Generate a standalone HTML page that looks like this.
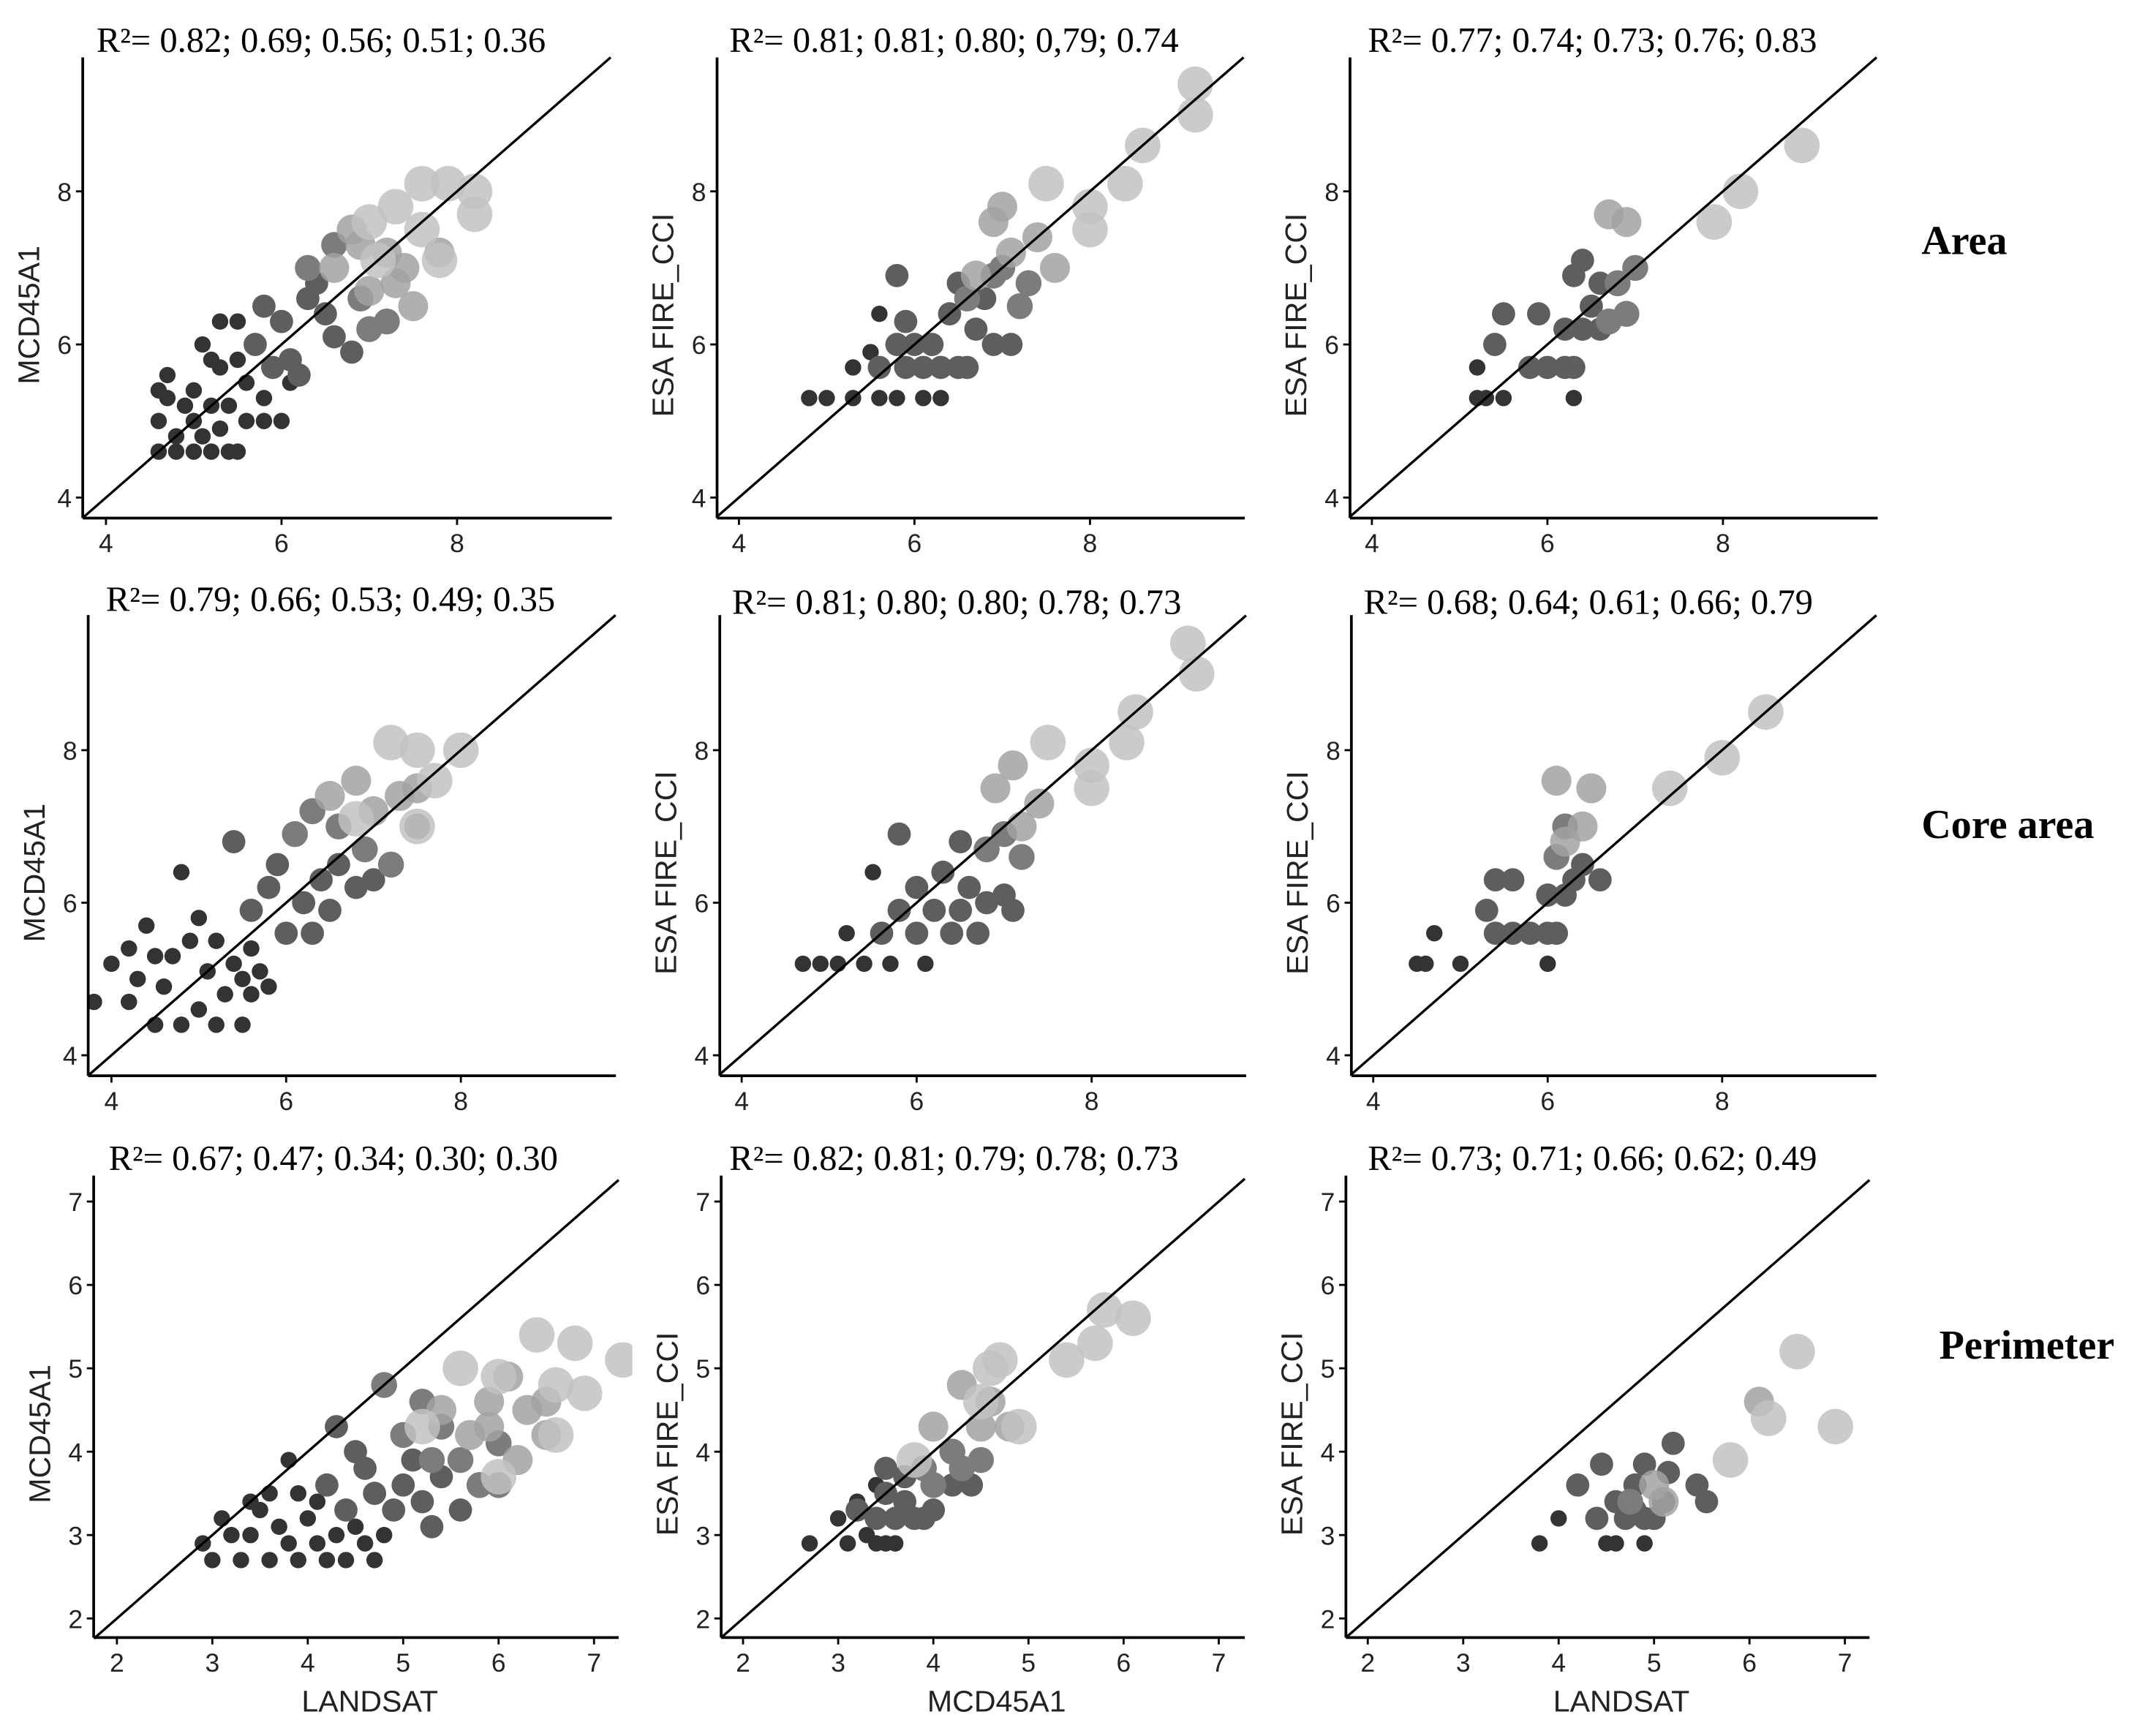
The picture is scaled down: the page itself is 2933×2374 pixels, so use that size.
<!DOCTYPE html>
<html><head><meta charset="utf-8">
<style>
html,body{margin:0;padding:0;background:#fff;}
svg{display:block;}
.tick{font-family:"Liberation Sans",sans-serif;font-size:19px;fill:#222;}
.ylab,.xlab{font-family:"Liberation Sans",sans-serif;font-size:22px;fill:#222;}
.r2{font-family:"Liberation Serif",serif;font-size:26px;fill:#000;}
.row{font-family:"Liberation Serif",serif;font-size:30px;font-weight:bold;fill:#000;}
</style></head>
<body>
<svg id="fig" width="2933" height="2374" viewBox="0 0 1568 1270" xmlns="http://www.w3.org/2000/svg">
<text class="row" x="1405" y="186">Area</text>
<text class="row" x="1405" y="613">Core area</text>
<text class="row" x="1418" y="994">Perimeter</text>
</svg>
<script>
// ---- data (x, y, group) ----
const p11 = [[4.6,4.6,0],[4.8,4.6,0],[5.0,4.6,0],[5.2,4.6,0],[5.4,4.6,0],[5.5,4.6,0],[4.6,5.0,0],[4.6,5.4,0],[4.7,5.6,0],[4.8,4.8,0],[5.0,5.0,0],[5.0,5.4,0],[5.2,5.8,0],[5.3,6.3,0],[5.5,6.3,0],[5.1,6.0,0],[5.3,5.7,0],[5.6,5.5,0],[5.8,5.3,0],[6.0,5.0,0],[5.8,5.0,0],[5.4,5.2,0],[5.2,5.2,0],[4.9,5.2,0],[5.6,5.0,0],[6.1,5.5,0],[5.5,5.8,0],[4.7,5.3,0],[5.1,4.8,0],[5.3,4.9,0],
[5.7,6.0,1],[5.8,6.5,1],[6.0,6.3,1],[6.1,5.8,1],[6.3,6.6,1],[6.4,6.8,1],[6.6,6.1,1],[6.8,5.9,1],[6.2,5.6,1],[5.9,5.7,1],[6.5,6.4,1],[7.0,6.2,2],[7.2,6.3,2],[6.9,6.6,2],[6.3,7.0,2],[6.6,7.3,2],
[6.6,7.0,3],[6.9,7.3,3],[7.3,6.8,3],[7.0,6.7,3],[7.5,6.5,3],[6.8,7.5,3],[7.2,7.2,3],[7.4,7.0,3],[7.8,7.2,3],
[7.0,7.6,4],[7.3,7.8,4],[7.6,8.1,4],[7.9,8.1,4],[8.2,8.0,4],[8.2,7.7,4],[7.8,7.1,4],[7.6,7.5,4],[7.1,7.1,4]];
const p12 = [[4.8,5.3,0],[5.0,5.3,0],[5.3,5.3,0],[5.6,5.3,0],[5.8,5.3,0],[6.1,5.3,0],[6.3,5.3,0],[5.3,5.7,0],[5.5,5.9,0],[5.8,6.9,1],[5.6,6.4,0],
[5.6,5.7,1],[5.8,6.0,1],[5.9,5.7,1],[6.0,6.0,1],[6.1,5.7,1],[6.3,5.7,1],[6.5,5.7,1],[6.6,5.7,1],[6.2,6.0,1],[6.4,6.4,1],[6.5,6.8,1],[6.7,6.2,1],[6.9,6.0,1],[7.1,6.0,1],[6.8,6.6,1],[5.9,6.3,1],
[6.9,6.9,2],[7.2,6.5,2],[7.0,7.0,2],[6.6,6.6,2],[7.3,6.8,2],
[6.9,7.6,3],[7.0,7.8,3],[7.4,7.4,3],[7.6,7.0,3],[7.1,7.2,3],[6.7,6.9,3],
[7.5,8.1,4],[8.0,7.8,4],[8.0,7.5,4],[8.4,8.1,4],[8.6,8.6,4],[9.2,9.4,4],[9.2,9.0,4]];
const p13 = [[5.2,5.7,0],[5.2,5.3,0],[5.3,5.3,0],[5.5,5.3,0],[6.3,5.3,0],
[5.4,6.0,1],[5.5,6.4,1],[5.8,5.7,1],[5.9,6.4,1],[6.0,5.7,1],[6.2,5.7,1],[6.3,5.7,1],[6.2,6.2,1],[6.4,6.2,1],[6.5,6.5,1],[6.6,6.2,1],[6.3,6.9,1],[6.4,7.1,1],[6.6,6.8,1],
[6.7,6.3,2],[6.9,6.4,2],[6.8,6.8,2],[7.0,7.0,2],[6.7,7.7,3],[6.9,7.6,3],[7.9,7.6,4],[8.2,8.0,4],[8.9,8.6,4]];
const p21 = [[3.8,4.7,0],[4.0,5.2,0],[4.2,4.7,0],[4.3,5.0,0],[4.4,5.7,0],[4.5,4.4,0],[4.6,4.9,0],[4.7,5.3,0],[4.8,4.4,0],[4.9,5.5,0],[5.0,4.6,0],[5.1,5.1,0],[5.2,5.5,0],[5.3,4.8,0],[5.4,5.2,0],[5.5,5.0,0],[5.6,4.8,0],[5.7,5.1,0],[5.8,4.9,0],[5.5,4.4,0],[4.8,6.4,0],[5.2,4.4,0],[4.5,5.3,0],[5.0,5.8,0],[5.6,5.4,0],[4.2,5.4,0],
[5.4,6.8,1],[5.6,5.9,1],[5.8,6.2,1],[6.0,5.6,1],[6.2,6.0,1],[6.4,6.3,1],[6.6,6.5,1],[6.8,6.2,1],[7.0,6.3,1],[6.3,5.6,1],[5.9,6.5,1],[6.5,5.9,1],
[6.1,6.9,2],[6.3,7.2,2],[6.6,7.0,2],[6.9,6.7,2],[7.2,6.5,2],[7.5,7.0,2],
[6.5,7.4,3],[6.8,7.6,3],[7.0,7.2,3],[7.3,7.4,3],[7.5,7.5,3],
[7.2,8.1,4],[7.5,8.0,4],[8.0,8.0,4],[7.7,7.6,4],[7.5,7.0,4],[6.8,7.1,4]];
const p22 = [[4.7,5.2,0],[4.9,5.2,0],[5.1,5.2,0],[5.4,5.2,0],[5.7,5.2,0],[6.1,5.2,0],[5.5,6.4,0],[5.8,6.9,1],[5.2,5.6,0],
[5.6,5.6,1],[5.8,5.9,1],[6.0,5.6,1],[6.2,5.9,1],[6.4,5.6,1],[6.5,5.9,1],[6.6,6.2,1],[6.3,6.4,1],[6.5,6.8,1],[6.8,6.0,1],[7.0,6.1,1],[7.1,5.9,1],[6.0,6.2,1],[6.7,5.6,1],
[6.8,6.7,2],[7.0,6.9,2],[7.2,6.6,2],[6.9,7.5,3],[7.1,7.8,3],[7.4,7.3,3],[7.2,7.0,3],
[7.5,8.1,4],[8.0,7.8,4],[8.0,7.5,4],[8.4,8.1,4],[8.5,8.5,4],[9.1,9.4,4],[9.2,9.0,4]];
const p23 = [[4.5,5.2,0],[4.6,5.2,0],[4.7,5.6,0],[5.0,5.2,0],[6.0,5.2,0],
[5.3,5.9,1],[5.4,5.6,1],[5.4,6.3,1],[5.6,6.3,1],[5.6,5.6,1],[5.8,5.6,1],[6.0,5.6,1],[6.1,5.6,1],[6.0,6.1,1],[6.2,6.1,1],[6.3,6.3,1],[6.4,6.5,1],[6.6,6.3,1],[6.2,7.0,2],[6.1,6.6,2],
[6.1,7.6,3],[6.5,7.5,3],[6.4,7.0,3],[6.2,6.8,3],[7.4,7.5,4],[8.0,7.9,4],[8.5,8.5,4]];
const p31 = [[2.9,2.9,0],[3.0,2.7,0],[3.1,3.2,0],[3.3,2.7,0],[3.4,3.0,0],[3.5,3.3,0],[3.6,2.7,0],[3.7,3.1,0],[3.8,2.9,0],[3.8,3.9,0],[3.9,2.7,0],[4.0,3.2,0],[4.1,2.9,0],[4.2,2.7,0],[4.3,3.0,0],[4.4,2.7,0],[4.5,3.1,0],[4.6,2.9,0],[4.7,2.7,0],[4.8,3.0,0],[3.4,3.4,0],[3.6,3.5,0],[4.1,3.4,0],[3.2,3.0,0],[3.9,3.5,0],
[4.2,3.6,1],[4.3,4.3,1],[4.4,3.3,1],[4.6,3.8,1],[4.7,3.5,1],[4.9,3.3,1],[5.0,3.6,1],[5.2,3.4,1],[5.3,3.1,1],[5.4,3.7,1],[5.6,3.3,1],[4.5,4.0,1],[5.1,3.9,1],
[4.8,4.8,2],[5.0,4.2,2],[5.2,4.6,2],[5.4,4.3,2],[5.6,3.9,2],[5.8,3.6,2],[6.0,3.6,2],[5.3,3.9,2],[6.0,4.1,2],
[5.4,4.5,3],[5.7,4.2,3],[5.9,4.6,3],[6.1,4.9,3],[6.3,4.5,3],[6.5,4.2,3],[6.2,3.9,3],[5.9,4.3,3],[6.5,4.6,3],
[5.6,5.0,4],[6.0,4.9,4],[6.4,5.4,4],[6.8,5.3,4],[7.3,5.1,4],[6.6,4.8,4],[6.9,4.7,4],[6.6,4.2,4],[6.0,3.7,4],[5.2,4.3,4]];
const p32 = [[2.7,2.9,0],[3.0,3.2,0],[3.1,2.9,0],[3.3,3.0,0],[3.4,2.9,0],[3.5,2.9,0],[3.6,2.9,0],[3.2,3.4,0],[3.4,3.6,0],
[3.2,3.3,1],[3.4,3.2,1],[3.5,3.5,1],[3.6,3.2,1],[3.7,3.4,1],[3.8,3.2,1],[3.9,3.2,1],[3.5,3.8,1],[3.7,3.7,1],[4.0,3.3,1],[4.2,3.6,1],[4.4,3.6,1],
[3.9,3.8,2],[4.0,3.6,2],[4.2,4.0,2],[4.3,3.8,2],[4.5,3.9,2],
[4.0,4.3,3],[4.3,4.8,3],[4.5,4.3,3],[4.6,4.6,3],[4.8,4.3,3],
[4.6,5.0,4],[4.7,5.1,4],[4.9,4.3,4],[5.4,5.1,4],[5.7,5.3,4],[5.8,5.7,4],[6.1,5.6,4],[4.5,4.6,4],[3.8,3.9,4]];
const p33 = [[3.8,2.9,0],[4.0,3.2,0],[4.5,2.9,0],[4.6,2.9,0],[4.9,2.9,0],
[4.2,3.6,1],[4.4,3.2,1],[4.45,3.85,1],[4.6,3.4,1],[4.7,3.2,1],[4.8,3.3,1],[4.8,3.6,1],[4.9,3.85,1],[4.9,3.2,1],[5.0,3.2,1],[5.1,3.4,1],[5.15,3.75,1],[5.2,4.1,1],[5.45,3.6,1],[5.55,3.4,1],
[4.75,3.4,2],[5.0,3.6,3],[5.1,3.4,3],[5.8,3.9,4],[6.1,4.6,3],[6.2,4.4,4],[6.5,5.2,4],[6.9,4.3,4]];
const r2Labels = ["R²= 0.82; 0.69; 0.56; 0.51; 0.36","R²= 0.81; 0.81; 0.80; 0,79; 0.74","R²= 0.77; 0.74; 0.73; 0.76; 0.83",
"R²= 0.79; 0.66; 0.53; 0.49; 0.35","R²= 0.81; 0.80; 0.80; 0.78; 0.73","R²= 0.68; 0.64; 0.61; 0.66; 0.79",
"R²= 0.67; 0.47; 0.34; 0.30; 0.30","R²= 0.82; 0.81; 0.79; 0.78; 0.73","R²= 0.73; 0.71; 0.66; 0.62; 0.49"];
const yLabels = ["MCD45A1","ESA FIRE_CCI","ESA FIRE_CCI"];
const xLabels = ["LANDSAT","MCD45A1","LANDSAT"];
const ticksAC = [4,6,8];
const ticksP = [2,3,4,5,6,7];
// ---- layout ----
const groupStyle = [{r:6,f:"#333"},{r:8.5,f:"#5e5e5e"},{r:9.5,f:"#7c7c7c"},{r:11,f:"#a2a2a2"},{r:13,f:"#c2c2c2"}];
const panels = [
 {d:p11,ax:60,bot:379,top:42,right:447,x0:77,xs:64.2,y0:364,ys:56,min:3.75,ticks:ticksAC,r2x:70,r2y:38},
 {d:p12,ax:524,bot:379,top:42,right:910,x0:540,xs:64.2,y0:364,ys:56,min:3.75,ticks:ticksAC,r2x:533,r2y:38},
 {d:p13,ax:987,bot:379,top:42,right:1373,x0:1003,xs:64.2,y0:364,ys:56,min:3.75,ticks:ticksAC,r2x:1000,r2y:38},
 {d:p21,ax:64,bot:787,top:450,right:450,x0:81,xs:63.9,y0:772,ys:55.8,min:3.73,ticks:ticksAC,r2x:77,r2y:447},
 {d:p22,ax:526,bot:787,top:450,right:911,x0:542,xs:64,y0:772,ys:55.8,min:3.75,ticks:ticksAC,r2x:535,r2y:449},
 {d:p23,ax:988,bot:787,top:450,right:1372,x0:1004,xs:63.8,y0:772,ys:55.8,min:3.75,ticks:ticksAC,r2x:997,r2y:449},
 {d:p31,ax:68,bot:1198,top:860,right:452,x0:85,xs:69.8,y0:1184,ys:61,min:1.76,ticks:ticksP,r2x:79,r2y:856},
 {d:p32,ax:527,bot:1198,top:860,right:910,x0:543,xs:69.6,y0:1184,ys:61,min:1.77,ticks:ticksP,r2x:533,r2y:856},
 {d:p33,ax:984,bot:1198,top:860,right:1367,x0:1000,xs:69.8,y0:1184,ys:61,min:1.77,ticks:ticksP,r2x:1000,r2y:856}];
const NS="http://www.w3.org/2000/svg";
const svg=document.getElementById('fig');
function mk(tag,attrs,parent){const e=document.createElementNS(NS,tag);for(const k in attrs)e.setAttribute(k,attrs[k]);(parent||svg).appendChild(e);return e;}
panels.forEach((p,i)=>{
  const t0=p.ticks[0];
  const sx=v=>p.x0+(v-t0)*p.xs;
  const sy=v=>p.y0-(v-t0)*p.ys;
  const g=mk('g',{});
  
  
  const clipId='c'+i;
  const cp=mk('clipPath',{id:clipId},g);
  mk('rect',{x:p.ax,y:p.top-20,width:p.right-p.ax+10,height:p.bot-p.top+20},cp);
  const pts=mk('g',{'clip-path':'url(#'+clipId+')'},g);
  
  
  [0,1,2,3,4].forEach(gr=>{
    p.d.filter(q=>q[2]===gr).forEach(q=>{
      const s=groupStyle[gr];
      const c=mk('circle',{cx:sx(q[0]),cy:sy(q[1]),r:s.r,fill:s.f,'fill-opacity':gr>=3?0.85:1},pts);
      
      
    });
  });
  const x1=p.min, x2=t0+(p.right-p.x0)/p.xs;
  const yTop=t0+(p.y0-p.top)/p.ys;
  const xe=Math.min(x2,yTop);
  const ln=mk('line',{x1:sx(x1),y1:sy(x1),x2:sx(xe),y2:sy(xe),stroke:'#000','stroke-width':1.8},g);
  
  
  const ya=mk('line',{x1:p.ax,y1:p.top,x2:p.ax,y2:p.bot,stroke:'#000','stroke-width':2},g);
  
  
  const xa=mk('line',{x1:p.ax,y1:p.bot,x2:p.right,y2:p.bot,stroke:'#000','stroke-width':2},g);
  
  
  p.ticks.forEach(t=>{
    mk('line',{x1:sx(t),y1:p.bot,x2:sx(t),y2:p.bot+5,stroke:'#000','stroke-width':1.5},g);
    const tx=mk('text',{x:sx(t),y:p.bot+25,'text-anchor':'middle',class:'tick'},g);
    tx.textContent=t;
    
    
    mk('line',{x1:p.ax-5,y1:sy(t),x2:p.ax,y2:sy(t),stroke:'#000','stroke-width':1.5},g);
    const ty=mk('text',{x:p.ax-8,y:sy(t)+7,'text-anchor':'end',class:'tick'},g);
    ty.textContent=t;
    
    
  });
  const r=mk('text',{x:p.r2x,y:p.r2y,class:'r2'},g);
  r.textContent=r2Labels[i];
  
  
  const cy=(p.top+p.bot)/2+20;
  const yl=mk('text',{x:0,y:0,'text-anchor':'middle',class:'ylab',transform:'translate('+(p.ax-32)+','+cy+') rotate(-90)'},g);
  yl.textContent=yLabels[i%3];
  
  
  if(i>=6){
    const xl=mk('text',{x:(p.ax+p.right)/2+10,y:1252,'text-anchor':'middle',class:'xlab'},g);
    xl.textContent=xLabels[i-6];
    
    
  }
});
</script>
</body></html>
